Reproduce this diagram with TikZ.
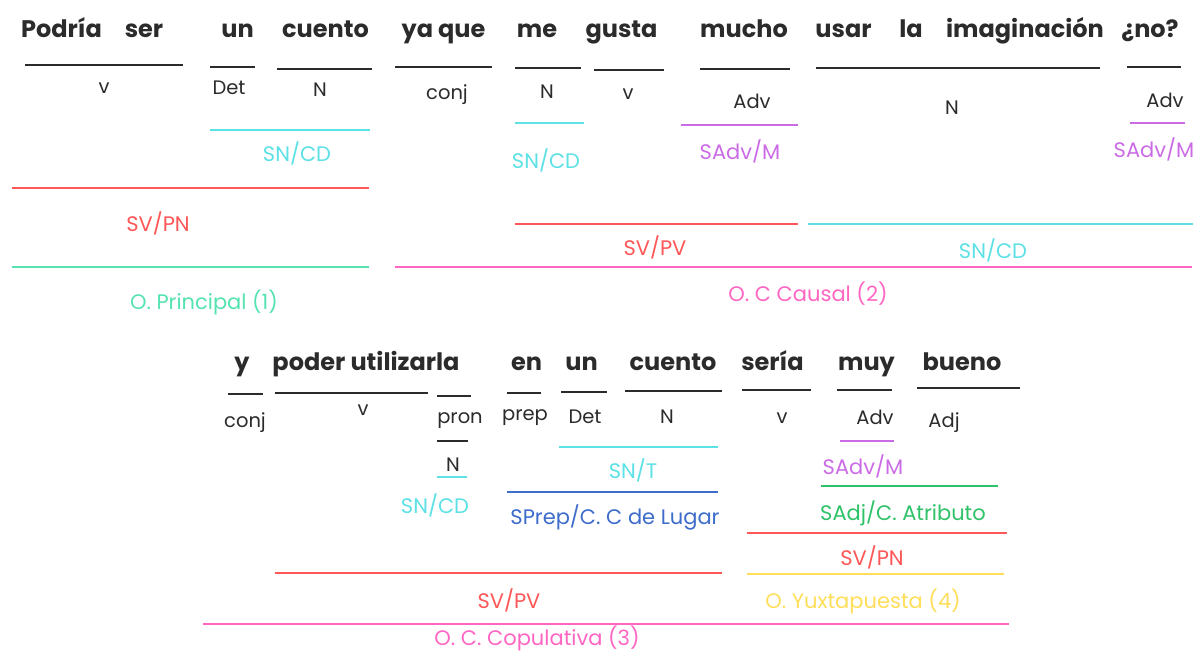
\documentclass[tikz,border=0pt]{standalone}
\usepackage{fontspec}
\setmainfont{Poppins}
\definecolor{ink}{HTML}{2B2B2B}
\definecolor{cCyan}{HTML}{5CE1E6}
\definecolor{cRed}{HTML}{FF5757}
\definecolor{cMint}{HTML}{55E3B0}
\definecolor{cPurple}{HTML}{CB6CE6}
\definecolor{cPink}{HTML}{FF66C4}
\definecolor{cBlue}{HTML}{3D6CCB}
\definecolor{cGreen}{HTML}{2FC268}
\definecolor{cYellow}{HTML}{FFDE59}
\newcommand\segline[4]{\draw[#1] (#2,#4) -- (#3,#4);}
\begin{document}
\begin{tikzpicture}[x=1pt,y=-1pt,
  word/.style={anchor=base,inner sep=0pt,font=\fontsize{24}{28}\selectfont\bfseries,text=ink},
  cat/.style={inner sep=0pt,font=\fontsize{19.5}{22}\selectfont,text=ink},
  fun/.style={inner sep=0pt,font=\fontsize{21}{24}\selectfont},
  bl/.style={draw=ink,line width=2.4pt},
  col/.style={line width=2.2pt}]
\fill[white] (0,0) rectangle (1194,653);
\useasboundingbox (0,0) rectangle (1194,653);
% ---------- top row words
\node[word] (w1) at (61.5,37) {Podría};
\node[word] (w2) at (144,37) {ser};
\node[word] (w3) at (237.5,37) {un};
\node[word] (w4) at (325.5,37) {cuento};
\node[word] (w5) at (443.5,37) {ya que};
\node[word] (w6) at (537,37) {me};
\node[word] (w7) at (621.5,37) {gusta};
\node[word] (w8) at (744,37) {mucho};
\node[word] (w9) at (843.5,37) {usar};
\node[word] (w10) at (911,37) {la};
\node[word] (w11) at (1025,37) {imaginación};
\node[word] (w12) at (1150,37) {¿no?};
% black underlines
\segline{bl}{25}{183}{65}
\segline{bl}{210}{255}{67}
\segline{bl}{277}{372}{69}
\segline{bl}{395}{492}{67}
\segline{bl}{515}{581}{68}
\segline{bl}{594}{664}{70}
\segline{bl}{700}{790}{69}
\segline{bl}{816}{1100}{68}
\segline{bl}{1127}{1181}{67}
% categories
\node[cat] (c1) at (104,88) {v};
\node[cat] (c2) at (229,88) {Det};
\node[cat] (c3) at (320,90) {N};
\node[cat] (c4) at (447,95) {conj};
\node[cat] (c5) at (547,92) {N};
\node[cat] (c6) at (628,94) {v};
\node[cat] (c7) at (752,101) {Adv};
\node[cat] (c8) at (952,108) {N};
\node[cat] (c9) at (1165,100) {Adv};
% functions top
\segline{col,draw=cCyan}{210}{370}{130}
\node[fun,text=cCyan] (f1) at (297,153) {SN/CD};
\segline{col,draw=cRed}{12}{369}{188}
\node[fun,text=cRed] (f2) at (158,223) {SV/PN};
\segline{col,draw=cMint}{12}{369}{267}
\node[fun,text=cMint] (f3) at (204,302) {O. Principal (1)};
\segline{col,draw=cCyan}{515}{584}{123}
\node[fun,text=cCyan] (f4) at (546,160) {SN/CD};
\segline{col,draw=cPurple}{681}{798}{125}
\node[fun,text=cPurple] (f5) at (740,151) {SAdv/M};
\segline{col,draw=cRed}{515}{798}{224}
\node[fun,text=cRed] (f6) at (655,247) {SV/PV};
\segline{col,draw=cCyan}{808}{1193}{224}
\node[fun,text=cCyan] (f7) at (993,250) {SN/CD};
\segline{col,draw=cPink}{395}{1192}{267}
\node[fun,text=cPink] (f8) at (808,294) {O. C Causal (2)};
\segline{col,draw=cPurple}{1130}{1185}{123}
\node[fun,text=cPurple] (f9) at (1154,149) {SAdv/M};
% ---------- bottom row words
\node[word] (v1) at (242,370) {y};
\node[word] (v2) at (366,370) {poder utilizarla};
\node[word] (v3) at (526.5,370) {en};
\node[word] (v4) at (581.5,370) {un};
\node[word] (v5) at (673,370) {cuento};
\node[word] (v6) at (772.5,370) {sería};
\node[word] (v7) at (866.5,370) {muy};
\node[word] (v8) at (962,370) {bueno};
% black underlines
\segline{bl}{228}{263}{394}
\segline{bl}{275}{428}{393}
\segline{bl}{437}{471}{396}
\segline{bl}{507}{541}{393}
\segline{bl}{561}{607}{392}
\segline{bl}{625}{722}{391}
\segline{bl}{742}{811}{390}
\segline{bl}{837}{892}{390}
\segline{bl}{917}{1020}{388}
% categories
\node[cat] (d1) at (245,423) {conj};
\node[cat] (d2) at (363,410) {v};
\node[cat] (d3) at (460,421) {pron};
\segline{bl,line width=1.8pt}{437}{468}{441}
\node[cat] (d4) at (453,465) {N};
\node[cat] (d5) at (525,418) {prep};
\node[cat] (d6) at (585,417) {Det};
\node[cat] (d7) at (667,417) {N};
\node[cat] (d8) at (782,418) {v};
\node[cat] (d9) at (875,417) {Adv};
\node[cat] (d10) at (944,423) {Adj};
% functions bottom
\segline{col,draw=cCyan}{437}{467}{477}
\node[fun,text=cCyan] (g1) at (435,505) {SN/CD};
\segline{col,draw=cCyan}{559}{718}{447}
\node[fun,text=cCyan] (g2) at (633,470) {SN/T};
\segline{col,draw=cBlue}{507}{718}{492}
\node[fun,text=cBlue] (g3) at (615,517) {SPrep/C. C de Lugar};
\segline{col,draw=cRed}{275}{722}{573}
\node[fun,text=cRed] (g4) at (509,600) {SV/PV};
\segline{col,draw=cPink}{203}{1009}{624}
\node[fun,text=cPink] (g5) at (537,638) {O. C. Copulativa (3)};
\segline{col,draw=cPurple}{840}{894}{441}
\node[fun,text=cPurple] (g6) at (863,466) {SAdv/M};
\segline{col,draw=cGreen}{821}{998}{486}
\node[fun,text=cGreen] (g7) at (903,513) {SAdj/C. Atributo};
\segline{col,draw=cRed}{747}{1007}{533}
\node[fun,text=cRed] (g8) at (872,557) {SV/PN};
\segline{col,draw=cYellow}{747}{1004}{574}
\node[fun,text=cYellow] (g9) at (863,601) {O. Yuxtapuesta (4)};
\end{tikzpicture}
\end{document}
